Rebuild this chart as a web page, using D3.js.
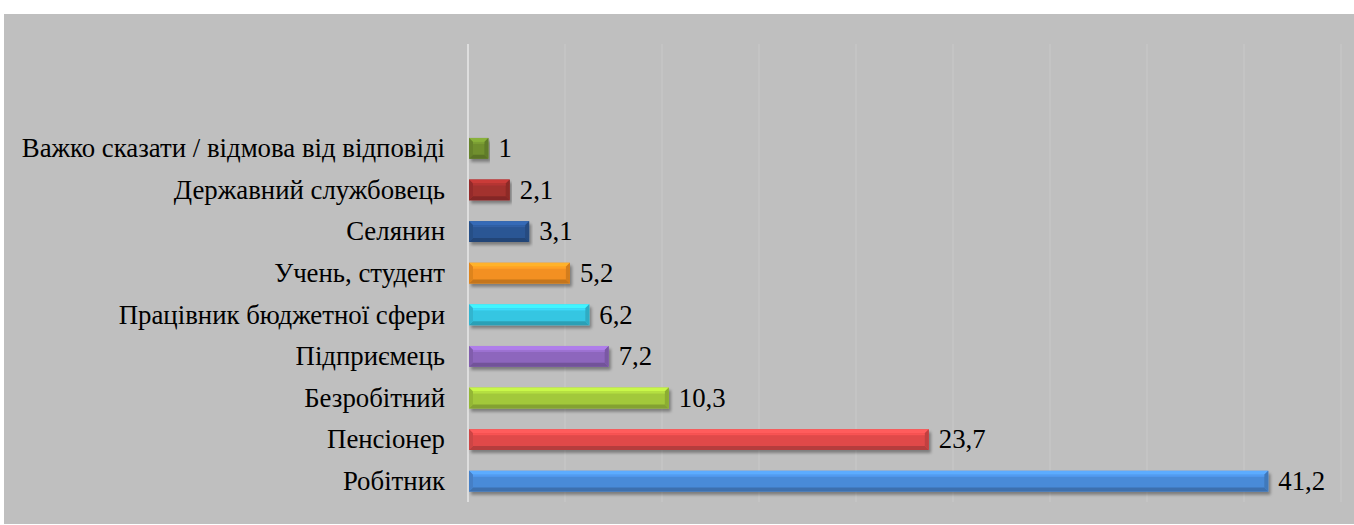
<!DOCTYPE html>
<html>
<head>
<meta charset="utf-8">
<script src="https://cdn.jsdelivr.net/npm/d3@7"></script>
<style>
  body { margin: 0; background: #fff; }
</style>
</head>
<body>
<div id="chart"></div>
<script>
// data, top to bottom
var categories = ["Важко сказати / відмова від відповіді", "Державний службовець", "Селянин",
  "Учень, студент", "Працівник бюджетної сфери", "Підприємець", "Безробітний", "Пенсіонер", "Робітник"];
var values = [1, 2.1, 3.1, 5.2, 6.2, 7.2, 10.3, 23.7, 41.2];
var barColors = ["#6f8f2f", "#a3302e", "#2b5694", "#f39021", "#36c6e2", "#8d66bd", "#a2c83b", "#e04a4a", "#4a8bd8"];
var xTicks = [0, 5, 10, 15, 20, 25, 30, 35, 40, 45];

var width = 1354, height = 525;
var plotTop = 44, plotBottom = 502, x0 = 468, x1 = 1341;
var fontFamily = "Liberation Serif";
var fontSize = "26.8px";

var svg = d3.select("#chart").append("svg")
    .attr("width", width)
    .attr("height", height);

var defs = svg.append("defs");
var shadow = defs.append("filter").attr("id", "shadow")
    .attr("x", "-5%").attr("y", "-30%").attr("width", "110%").attr("height", "190%");
shadow.append("feDropShadow")
    .attr("dx", 2).attr("dy", 3).attr("stdDeviation", 1.6)
    .attr("flood-color", "#000").attr("flood-opacity", 0.35);

// background
svg.append("rect")
    .attr("x", 4).attr("y", 14)
    .attr("width", width - 4).attr("height", 510)
    .attr("fill", "#bfbfbf");

var x = d3.scaleLinear().domain([0, 45]).range([x0, x1]);
var y = d3.scaleBand().domain(categories).range([127.5, plotBottom]).paddingInner(0.5).paddingOuter(0.25);

// gridlines
svg.append("g").selectAll("line")
    .data(xTicks.slice(1))
    .enter().append("line")
    .attr("x1", function(d) { return x(d); })
    .attr("x2", function(d) { return x(d); })
    .attr("y1", plotTop).attr("y2", plotBottom)
    .attr("stroke", "#c9c9c9").attr("stroke-width", 1);

// axis line
svg.append("line")
    .attr("x1", x(0)).attr("x2", x(0))
    .attr("y1", plotTop).attr("y2", plotBottom)
    .attr("stroke", "#dedede").attr("stroke-width", 2);

// category labels
svg.append("g").selectAll("text")
    .data(categories)
    .enter().append("text")
    .attr("x", x(0) - 23)
    .attr("y", function(d) { return y(d) + y.bandwidth() / 2; })
    .attr("dy", "0.33em")
    .attr("text-anchor", "end")
    .attr("font-family", fontFamily)
    .attr("font-size", fontSize)
    .attr("fill", "#000")
    .text(function(d) { return d; });

var locale = d3.formatLocale({decimal: ",", thousands: " ", grouping: [3], currency: ["", ""]});
var fmt = locale.format(",");

var rows = categories.map(function(c, i) { return {cat: c, val: values[i], color: barColors[i]}; });

// bars with bevel
var bars = svg.append("g").selectAll("g.bar")
    .data(rows)
    .enter().append("g")
    .attr("class", "bar")
    .attr("filter", "url(#shadow)");

bars.each(function(d) {
  var g = d3.select(this);
  var bx = x(0) + 1, by = y(d.cat), bw = x(d.val) - x(0), bh = y.bandwidth();
  var b = Math.min(4, bw / 4), bt = 4;
  var base = d3.color(d.color);
  g.append("rect")
    .attr("x", bx).attr("y", by).attr("width", bw).attr("height", bh)
    .attr("fill", base);
  // top bevel
  g.append("polygon")
    .attr("points", [[bx, by], [bx + bw, by], [bx + bw - b, by + bt], [bx + b, by + bt]].join(" "))
    .attr("fill", base.brighter(0.6));
  // bottom bevel
  g.append("polygon")
    .attr("points", [[bx, by + bh], [bx + bw, by + bh], [bx + bw - b, by + bh - bt], [bx + b, by + bh - bt]].join(" "))
    .attr("fill", base.darker(0.6));
  // left bevel
  g.append("polygon")
    .attr("points", [[bx, by], [bx + b, by + bt], [bx + b, by + bh - bt], [bx, by + bh]].join(" "))
    .attr("fill", base.darker(0.25));
  // right bevel
  g.append("polygon")
    .attr("points", [[bx + bw, by], [bx + bw - b, by + bt], [bx + bw - b, by + bh - bt], [bx + bw, by + bh]].join(" "))
    .attr("fill", base.darker(0.4));
  // highlight strip
  g.append("rect")
    .attr("x", bx + b).attr("y", by + bt).attr("width", Math.max(0, bw - 2 * b)).attr("height", 2)
    .attr("fill", base.brighter(0.3));
});

// value labels
svg.append("g").selectAll("text")
    .data(rows)
    .enter().append("text")
    .attr("x", function(d) { return x(d.val) + 11; })
    .attr("y", function(d) { return y(d.cat) + y.bandwidth() / 2; })
    .attr("dy", "0.33em")
    .attr("font-family", fontFamily)
    .attr("font-size", fontSize)
    .attr("fill", "#000")
    .text(function(d) { return fmt(d.val); });
</script>
</body>
</html>
